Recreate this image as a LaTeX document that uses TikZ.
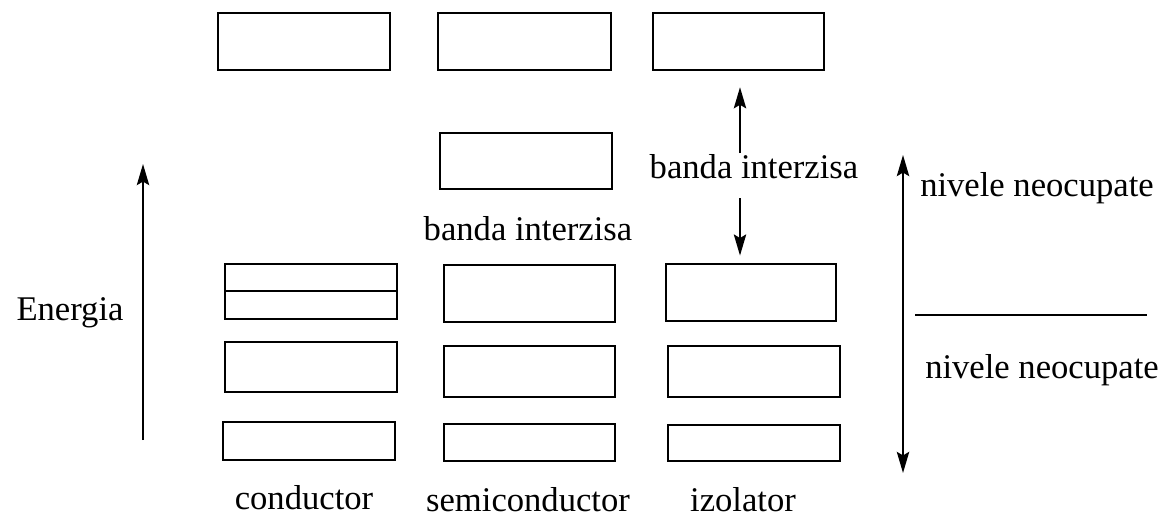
\documentclass[tikz,border=0pt]{standalone}
\usepackage{fontspec}
\setmainfont{Liberation Serif}
\usetikzlibrary{fit,arrows.meta}

\begin{document}
\begin{tikzpicture}[x=0.02cm,y=-0.02cm,>={Stealth[length=12pt,width=7pt,inset=2pt]},
                    band/.style={draw,line width=1.6pt,inner sep=0pt},
                    label text/.style={font=\fontsize{19.7}{23}\selectfont,inner sep=0pt},
                    axis/.style={line width=1.2pt}]
  \useasboundingbox (0,0) rectangle (1167,525);

  % conductor
  \node[band,fit={(218,13) (390,70)}] (c1) {};
  \node[band,fit={(225,264) (397,291)}] (c2) {};
  \node[band,fit={(225,291) (397,319)}] (c3) {};
  \node[band,fit={(225,342) (397,392)}] (c4) {};
  \node[band,fit={(223,422) (395,460)}] (c5) {};

  % semiconductor
  \node[band,fit={(438,13) (611,70)}] (s1) {};
  \node[band,fit={(440,133) (612,189)}] (s2) {};
  \node[band,fit={(444,265) (615,322)}] (s3) {};
  \node[band,fit={(444,346) (615,397)}] (s4) {};
  \node[band,fit={(444,424) (615,461)}] (s5) {};

  % izolator
  \node[band,fit={(653,13) (824,70)}] (i1) {};
  \node[band,fit={(666,264) (836,321)}] (i2) {};
  \node[band,fit={(668,346) (840,397)}] (i3) {};
  \node[band,fit={(668,425) (840,461)}] (i4) {};

  % labels
  \node[label text] (energia) at (70,313) {Energia};
  \node[label text] (gaps) at (528,229) {banda interzisa};
  \node[label text] (gapi) at (754,167) {banda interzisa};
  \node[label text] (upper) at (1037,188) {nivele neocupate};
  \node[label text] (lower) at (1042,370) {nivele neocupate};
  \node[label text] (cond) at (304,498) {conductor};
  \node[label text] (semi) at (528,500) {semiconductor};
  \node[label text] (izol) at (743,500) {izolator};

  % arrows
  \coordinate (e0) at (143,440);
  \coordinate (e1) at (143,164);
  \draw[axis,->] (e0) -- (e1);

  \coordinate (g0) at (740,153);
  \coordinate (g1) at (740,198);
  \draw[axis,->,shorten >=9pt] (g0) -- (g0 |- i1.south);
  \draw[axis,->,shorten >=4pt] (g1) -- (g1 |- i2.north);

  \coordinate (n0) at (903,155);
  \coordinate (n1) at (903,473);
  \draw[axis,<->] (n0) -- (n1);

  \coordinate (h0) at (915,315);
  \coordinate (h1) at (1147,315);
  \draw[axis] (h0) -- (h1);
\end{tikzpicture}
\end{document}
